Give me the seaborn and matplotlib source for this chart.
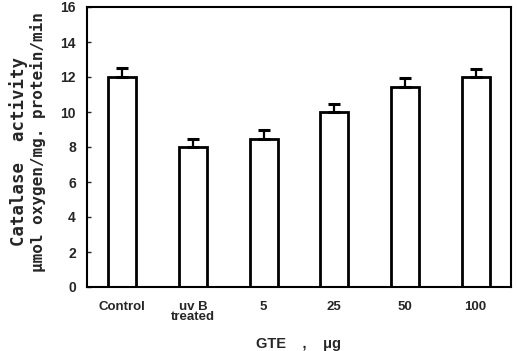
import matplotlib
matplotlib.use("Agg")
import matplotlib.pyplot as plt
import seaborn as sns
import pandas as pd
import numpy as np

categories = ["Control", "uv B\ntreated", "5", "25", "50", "100"]
values = [12.0, 8.0, 8.45, 10.0, 11.45, 12.0]
errors = [0.5, 0.45, 0.55, 0.45, 0.5, 0.45]
yticks = [0, 2, 4, 6, 8, 10, 12, 14, 16]

sns.set_theme(style="white")
plt.rcParams['font.family'] = ['Liberation Sans', 'DejaVu Sans']
plt.rcParams['font.weight'] = 'bold'

df = pd.DataFrame({"cat": categories, "val": values, "err": errors})

fig = plt.figure(figsize=(5.17, 3.51), dpi=100)
ax = fig.add_axes([87/517, 1 - 287/351, (511-87)/517, (287-7)/351])

sns.barplot(data=df, x="cat", y="val", ax=ax, color="white", edgecolor="black",
            linewidth=2.0, width=0.4, errorbar=None, saturation=1)
ax.errorbar(np.arange(len(categories)), df["val"], yerr=[np.zeros(len(errors)), df["err"]],
            fmt="none", ecolor="black", elinewidth=1.6, capsize=4, capthick=2.2)

ax.set_xlim(-0.5, 5.5)
ax.set_ylim(0, 16)
ax.set_yticks(yticks)
ax.set_yticklabels([str(t) for t in yticks], fontsize=10, fontweight='bold')
ax.tick_params(axis='y', direction='in', length=3, width=1, left=True, pad=8)
ax.tick_params(axis='x', length=0, pad=10)
for lab in ax.get_xticklabels():
    lab.set_fontsize(9.5)
    lab.set_fontweight('bold')
    lab.set_linespacing(0.8)
for s in ax.spines.values():
    s.set_visible(True)
    s.set_color("black")
    s.set_linewidth(1.5)

ax.set_xlabel("GTE    ,    μg", fontsize=10.5, fontweight='bold', labelpad=10)
ax.set_ylabel("")

mono = ['DejaVu Sans Mono']
fig.text(19/517, 1 - 152/351, "Catalase  activity", rotation=90, ha='center', va='center',
         fontsize=12.5, fontweight='bold', family=mono)
fig.text(38/517, 1 - 142/351, "μmol oxygen/mg. protein/min", rotation=90, ha='center',
         va='center', fontsize=11.5, fontweight='bold', family=mono)

fig.savefig("out.png", dpi=100)
